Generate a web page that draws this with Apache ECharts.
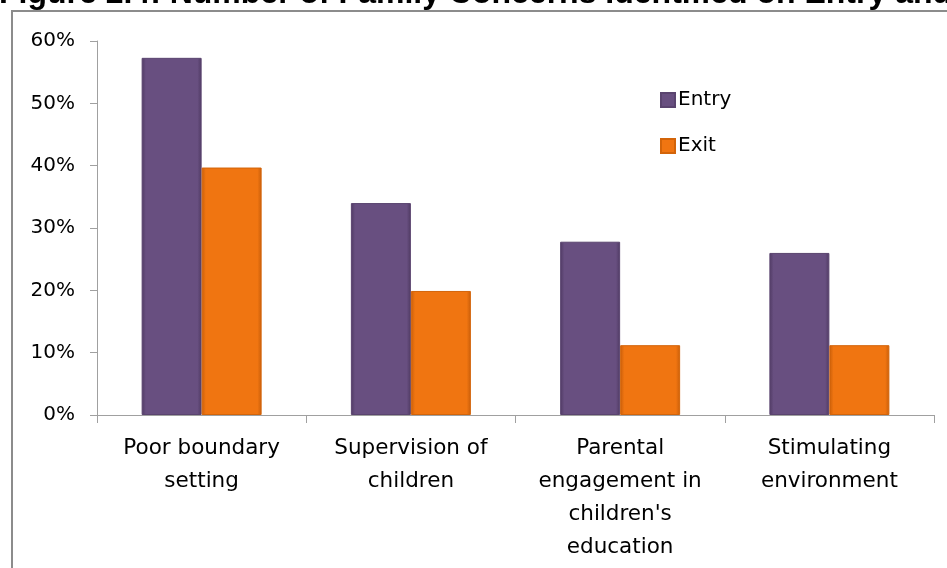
<!DOCTYPE html>
<html>
<head>
<meta charset="utf-8">
<script src="https://cdn.jsdelivr.net/npm/echarts@6/dist/echarts.min.js"></script>
<style>
html,body{margin:0;padding:0;background:#fff;}
#chart{width:947px;height:568px;}
</style>
</head>
<body>
<div id="chart"></div>
<script>
const titleText = "Figure 2.4: Number of Family Concerns Identified on Entry and Exit";
const categories = ["Poor boundary\nsetting", "Supervision of\nchildren", "Parental\nengagement in\nchildren's\neducation", "Stimulating\nenvironment"];
const entryValues = [57.3, 34.0, 27.8, 26.0];
const exitValues = [39.7, 19.9, 11.2, 11.2];
const yTicks = { min: 0, max: 60, interval: 10 };

function barFill(dark, main) {
  return new echarts.graphic.LinearGradient(0, 0, 1, 0, [
    { offset: 0, color: dark },
    { offset: 0.07, color: main },
    { offset: 0.93, color: main },
    { offset: 1, color: dark }
  ]);
}

const chart = echarts.init(document.getElementById('chart'), null, { renderer: 'canvas' });
const labelFont = "'DejaVu Sans', sans-serif";
chart.setOption({
  backgroundColor: '#ffffff',
  animation: false,
  graphic: [
    {
      type: 'rect',
      shape: { x: 12, y: 11, width: 1200, height: 1200 },
      style: { fill: 'none', stroke: '#8c8c8c', lineWidth: 2 },
      z: -1
    },
    {
      type: 'text',
      x: -1,
      y: -6,
      style: {
        text: titleText,
        font: "bold 32px 'Liberation Sans', Arial, sans-serif",
        fill: '#000',
        verticalAlign: 'middle',
        align: 'left'
      }
    }
  ],
  legend: {
    orient: 'vertical',
    left: 655,
    top: 85,
    itemWidth: 14,
    itemHeight: 14,
    itemGap: 26,
    icon: 'rect',
    textStyle: { fontFamily: labelFont, fontSize: 20, color: '#000', padding: [0, 0, 0, -2] },
    data: ['Entry', 'Exit']
  },
  grid: { left: 97, right: 13, top: 41, bottom: 153, containLabel: false },
  xAxis: {
    type: 'category',
    data: categories,
    axisLine: { lineStyle: { color: '#a0a0a0', width: 1 } },
    axisTick: { show: true, length: 8, lineStyle: { color: '#a0a0a0' } },
    axisLabel: {
      fontFamily: labelFont, fontSize: 21.5, color: '#000',
      lineHeight: 33, margin: 17, interval: 0
    }
  },
  yAxis: {
    type: 'value',
    min: yTicks.min, max: yTicks.max, interval: yTicks.interval,
    axisLine: { show: true, lineStyle: { color: '#a0a0a0', width: 1 } },
    axisTick: { show: true, length: 7, lineStyle: { color: '#a0a0a0' } },
    splitLine: { show: false },
    axisLabel: {
      formatter: '{value}%', fontFamily: labelFont, fontSize: 20, color: '#000', margin: 22
    }
  },
  series: [
    {
      name: 'Entry', type: 'bar', data: entryValues, barWidth: 60, barGap: '0%',
      itemStyle: { color: barFill('#4f3a63', '#684f80'), borderColor: '#5a446f', borderWidth: 1 }
    },
    {
      name: 'Exit', type: 'bar', data: exitValues, barWidth: 60,
      itemStyle: { color: barFill('#c85e0a', '#f07511'), borderColor: '#d36409', borderWidth: 1 }
    }
  ]
});
</script>
</body>
</html>
